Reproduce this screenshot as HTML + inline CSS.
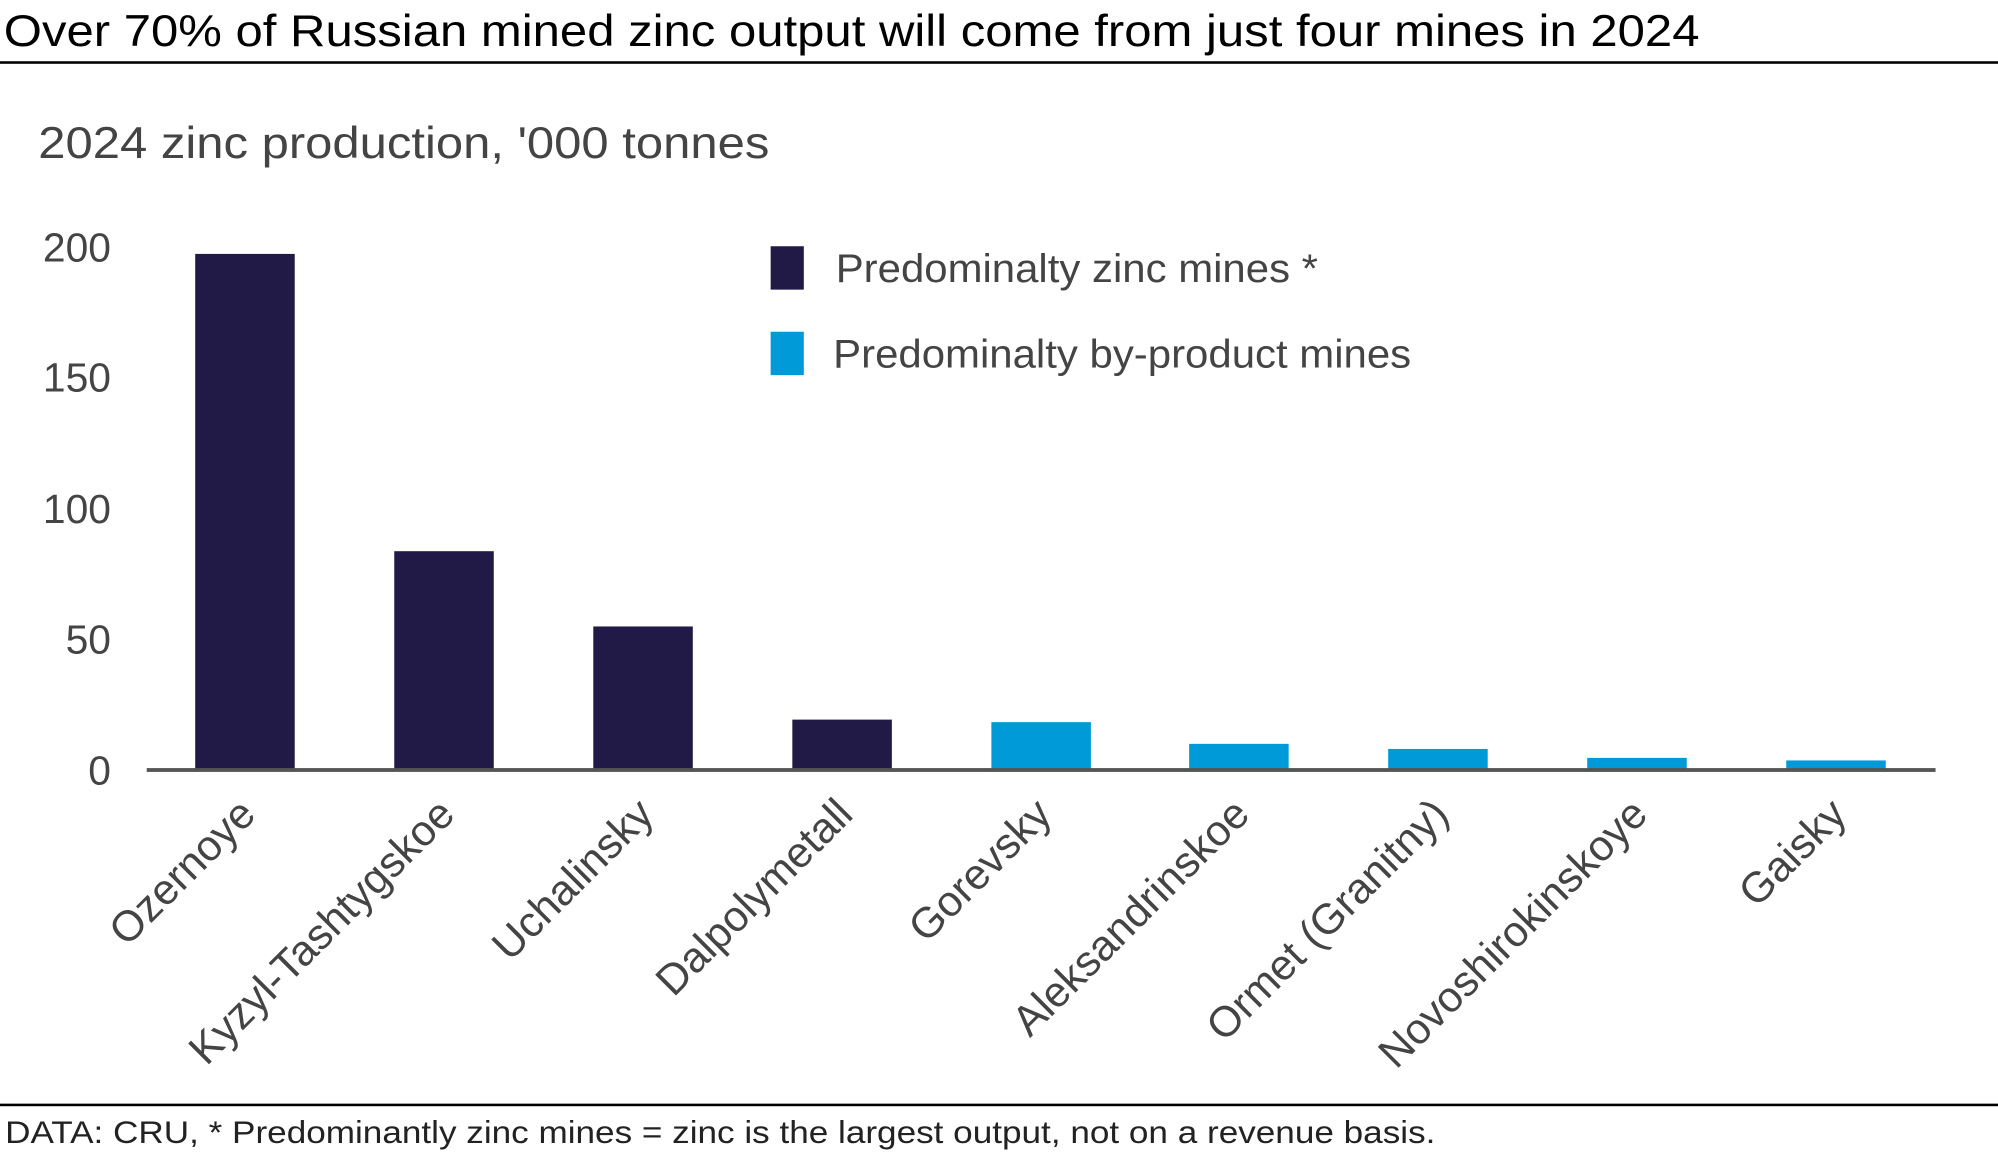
<!DOCTYPE html>
<html><head><meta charset="utf-8"><style>
html,body{margin:0;padding:0;background:#fff;width:1998px;height:1156px;overflow:hidden}
#w{position:absolute;left:0;top:0;width:1566px;height:906px;transform:scale(1.2759);transform-origin:0 0}
svg text{font-family:"Liberation Sans",Arial,sans-serif}
</style></head><body><div id="w">
<svg width="1566" height="906" viewBox="0 0 1566 906" xmlns="http://www.w3.org/2000/svg">
<text x="3" y="36" font-size="35" fill="#000" textLength="1329" lengthAdjust="spacingAndGlyphs">Over 70% of Russian mined zinc output will come from just four mines in 2024</text>
<rect x="0" y="48" width="1566" height="2" fill="#000"/>
<text x="30" y="124" font-size="35" fill="#444" textLength="573" lengthAdjust="spacingAndGlyphs">2024 zinc production, '000 tonnes</text>
<g font-size="32" fill="#444" text-anchor="end">
<text x="87" y="205">200</text><text x="87" y="307">150</text><text x="87" y="410">100</text><text x="87" y="512">50</text><text x="87" y="615">0</text>
</g>
<g fill="#211a47">
<rect x="153" y="199" width="78" height="405"/>
<rect x="309" y="432" width="78" height="172"/>
<rect x="465" y="491" width="78" height="113"/>
<rect x="621" y="564" width="78" height="40"/>
</g>
<g fill="#009ad9">
<rect x="777" y="566" width="78" height="38"/>
<rect x="932" y="583" width="78" height="21"/>
<rect x="1088" y="587" width="78" height="17"/>
<rect x="1244" y="594" width="78" height="10"/>
<rect x="1400" y="596" width="78" height="8"/>
</g>
<rect x="115" y="602" width="1402" height="3" fill="#555"/>
<rect x="604" y="193" width="26" height="34" fill="#211a47"/>
<text x="655" y="221" font-size="31" fill="#444" textLength="378" lengthAdjust="spacingAndGlyphs">Predominalty zinc mines *</text>
<rect x="604" y="260" width="26" height="34" fill="#009ad9"/>
<text x="653" y="288" font-size="31" fill="#444" textLength="453" lengthAdjust="spacingAndGlyphs">Predominalty by-product mines</text>
<g font-size="33.5" fill="#444" text-anchor="end">
<text transform="translate(202,640) rotate(-45)">Ozernoye</text>
<text transform="translate(358,640) rotate(-45)">Kyzyl-Tashtygskoe</text>
<text transform="translate(514,640) rotate(-45)">Uchalinsky</text>
<text transform="translate(670,640) rotate(-45)">Dalpolymetall</text>
<text transform="translate(826,640) rotate(-45)">Gorevsky</text>
<text transform="translate(981,640) rotate(-45)">Aleksandrinskoe</text>
<text transform="translate(1137,640) rotate(-45)">Ormet (Granitny)</text>
<text transform="translate(1293,640) rotate(-45)">Novoshirokinskoye</text>
<text transform="translate(1449,640) rotate(-45)">Gaisky</text>
</g>
<rect x="0" y="865" width="1566" height="2" fill="#000"/>
<text x="4" y="896" font-size="25" fill="#222" textLength="1121" lengthAdjust="spacingAndGlyphs">DATA: CRU, * Predominantly zinc mines = zinc is the largest output, not on a revenue basis.</text>
</svg></div></body></html>
